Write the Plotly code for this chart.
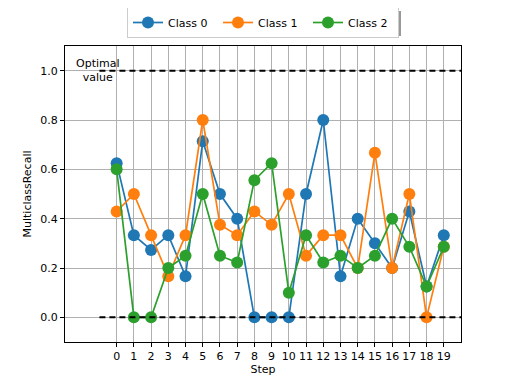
import plotly.graph_objects as go

steps = list(range(20))
class0 = [0.625, 0.333, 0.273, 0.333, 0.167, 0.714, 0.5, 0.4, 0.0, 0.0,
          0.0, 0.5, 0.8, 0.167, 0.4, 0.3, 0.2, 0.429, 0.125, 0.333]
class1 = [0.429, 0.5, 0.333, 0.167, 0.333, 0.8, 0.375, 0.333, 0.429, 0.375,
          0.5, 0.25, 0.333, 0.333, 0.2, 0.667, 0.2, 0.5, 0.0, 0.286]
class2 = [0.6, 0.0, 0.0, 0.2, 0.25, 0.5, 0.25, 0.222, 0.556, 0.625,
          0.1, 0.333, 0.222, 0.25, 0.2, 0.25, 0.4, 0.286, 0.125, 0.286]
series_names = ["Class 0", "Class 1", "Class 2"]
colors = ["#1f77b4", "#ff7f0e", "#2ca02c"]
optimal_value = 1.0
worst_value = 0.0
hline_start = -1
x_range = [-3, 20]
y_range = [-0.1, 1.1]
y_ticks = [0.0, 0.2, 0.4, 0.6, 0.8, 1.0]

FONT = "DejaVu Sans"
# page has an 8px body margin: figure is 504x376, shifted by (8, 8)
PL, PT, PR, PB = 65, 46, 461, 342  # plot area in page pixels
PW, PH = PR - PL, PB - PT


def px_to_paper_x(px):
    return (px - PL) / PW


def px_to_paper_y(py):
    return (PB - py) / PH


fig = go.Figure()

for name, vals, col in zip(series_names, [class0, class1, class2], colors):
    fig.add_trace(go.Scatter(
        x=steps, y=vals, name=name, mode="lines+markers",
        line=dict(color=col, width=1.7),
        marker=dict(color=col, size=12),
    ))

for yv in (optimal_value, worst_value):
    fig.add_trace(go.Scatter(
        x=[hline_start, x_range[1]], y=[yv, yv], mode="lines",
        line=dict(color="black", width=2, dash="6px,4px"),
        showlegend=False, hoverinfo="skip",
    ))

fig.add_annotation(
    x=-1.1, y=optimal_value, xref="x", yref="y",
    text="Optimal<br>value", showarrow=False, align="center",
    xanchor="center", yanchor="middle",
    font=dict(family=FONT, size=11, color="black"),
)

axis_common = dict(
    showline=True, linecolor="black", linewidth=1, mirror=True,
    ticks="outside", ticklen=4, tickcolor="black",
    showgrid=True, gridcolor="#b0b0b0", gridwidth=1, zeroline=False,
    tickfont=dict(family=FONT, size=11, color="black"),
)

fig.update_xaxes(range=x_range, tickmode="array", tickvals=steps,
                 ticktext=[str(s) for s in steps],
                 title=dict(text="Step", font=dict(family=FONT, size=11, color="black"), standoff=2),
                 **axis_common)
fig.update_yaxes(range=y_range, tickmode="array", tickvals=y_ticks,
                 ticktext=[f"{v:.1f}" for v in y_ticks],
                 title=dict(text="MulticlassRecall", font=dict(family=FONT, size=11, color="black"), standoff=6),
                 **axis_common)

# legend shadow (offset box behind legend)
fig.add_shape(type="rect", xref="paper", yref="paper",
              x0=px_to_paper_x(131), x1=px_to_paper_x(401),
              y0=px_to_paper_y(36), y1=px_to_paper_y(11),
              fillcolor="#999999", line=dict(width=0), layer="below")

fig.update_layout(
    width=504, height=376,
    margin=dict(l=PL - 8, r=504 - (PR - 8), t=PT - 8, b=376 - (PB - 8), autoexpand=False),
    paper_bgcolor="white", plot_bgcolor="white",
    font=dict(family=FONT, size=11, color="black"),
    legend=dict(orientation="h", x=0.5, xanchor="center", y=px_to_paper_y(7), yanchor="top",
                bgcolor="white", bordercolor="#cccccc", borderwidth=1,
                itemwidth=30, tracegroupgap=0, entrywidth=45, entrywidthmode="pixels",
                font=dict(family=FONT, size=11, color="black")),
)

fig.write_html("out.html")
